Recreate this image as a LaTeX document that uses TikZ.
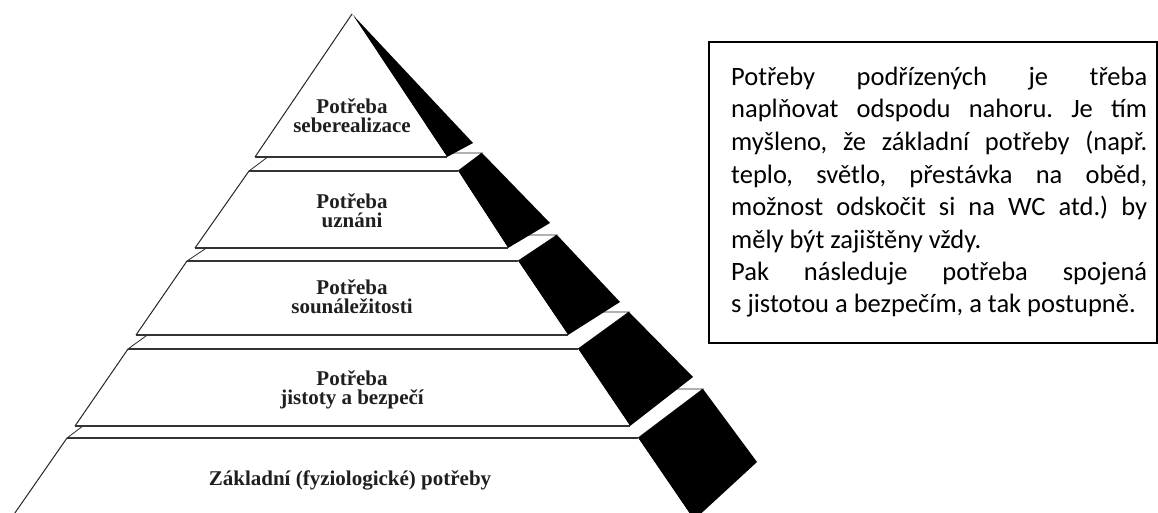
\documentclass[tikz,border=0pt]{standalone}
\usepackage{fontspec}
\setmainfont{Liberation Serif}
\newfontfamily\notefont{Carlito}
\frenchspacing
\begin{document}
\begin{tikzpicture}[x=1pt,y=-1pt,
  edge/.style={line width=1.8pt,draw=black!80},
  side/.style={line width=1pt,draw=black!85},
  backedge/.style={line width=0.8pt,draw=black!85},
  topface/.style={fill=white,backedge},
  shadeface/.style={fill=black},
  frontface/.style={fill=white},
  lbl/.style={font=\fontsize{21}{21}\selectfont\bfseries,text=black!88,anchor=base,
    inner sep=0pt,text height=12pt,text depth=3pt},
  note/.style={font=\notefont\fontsize{26.5}{32.3}\selectfont,anchor=base west,inner sep=0pt}]
\useasboundingbox (0,0) rectangle (1158,513);
\clip (0,0) rectangle (1158,513);

% ---- level 5: base layer
\coordinate (e-tl) at (67,438);  \coordinate (e-tr) at (638,438);
\coordinate (e-bl) at (10,520);  \coordinate (e-br) at (694,520);
\coordinate (e-btl) at (132,389); \coordinate (e-btr) at (703,389);
\coordinate (e-bbr) at (757,462);
\filldraw[topface] (e-tl) -- (e-tr) -- (e-btr) -- (e-btl) -- cycle;
\fill[shadeface] (e-tr) -- (e-btr) -- (e-bbr) -- (e-br) -- cycle;
\fill[frontface] (e-tl) -- (e-tr) -- (e-br) -- (e-bl) -- cycle;
\draw[side] (e-bl) -- (e-tl);
\draw[edge] (e-tl) -- (e-tr);

% ---- level 4
\coordinate (d-tl) at (128,349); \coordinate (d-tr) at (578,349);
\coordinate (d-bl) at (75,426);  \coordinate (d-br) at (630,426);
\coordinate (d-btl) at (179,312); \coordinate (d-btr) at (629,312);
\coordinate (d-bbr) at (693,377);
\filldraw[topface] (d-tl) -- (d-tr) -- (d-btr) -- (d-btl) -- cycle;
\fill[shadeface] (d-tr) -- (d-btr) -- (d-bbr) -- (d-br) -- cycle;
\fill[frontface] (d-tl) -- (d-tr) -- (d-br) -- (d-bl) -- cycle;
\draw[side] (d-bl) -- (d-tl);
\draw[edge] (d-tl) -- (d-tr);
\draw[edge] (d-bl) -- (d-br);

% ---- level 3
\coordinate (c-tl) at (187,261); \coordinate (c-tr) at (518,261);
\coordinate (c-bl) at (136,335); \coordinate (c-br) at (568,335);
\coordinate (c-btl) at (226,235); \coordinate (c-btr) at (557,235);
\coordinate (c-bbr) at (620,302);
\filldraw[topface] (c-tl) -- (c-tr) -- (c-btr) -- (c-btl) -- cycle;
\fill[shadeface] (c-tr) -- (c-btr) -- (c-bbr) -- (c-br) -- cycle;
\fill[frontface] (c-tl) -- (c-tr) -- (c-br) -- (c-bl) -- cycle;
\draw[side] (c-bl) -- (c-tl);
\draw[edge] (c-tl) -- (c-tr);
\draw[edge] (c-bl) -- (c-br);

% ---- level 2
\coordinate (b-tl) at (249,171); \coordinate (b-tr) at (458,171);
\coordinate (b-bl) at (195,248); \coordinate (b-br) at (508,248);
\coordinate (b-btl) at (273,153); \coordinate (b-btr) at (482,153);
\coordinate (b-bbr) at (550,223);
\filldraw[topface] (b-tl) -- (b-tr) -- (b-btr) -- (b-btl) -- cycle;
\fill[shadeface] (b-tr) -- (b-btr) -- (b-bbr) -- (b-br) -- cycle;
\fill[frontface] (b-tl) -- (b-tr) -- (b-br) -- (b-bl) -- cycle;
\draw[side] (b-bl) -- (b-tl);
\draw[edge] (b-tl) -- (b-tr);
\draw[edge] (b-bl) -- (b-br);

% ---- level 1: apex
\coordinate (a-top) at (352,14);
\coordinate (a-bl) at (255,157); \coordinate (a-br) at (447,157);
\coordinate (a-bbr) at (473,143);
\fill[shadeface] (a-top) -- (a-bbr) -- (a-br) -- cycle;
\fill[frontface] (a-top) -- (a-br) -- (a-bl) -- cycle;
\draw[side] (a-bl) -- (a-top);
\draw[edge] (a-bl) -- (a-br);

% ---- level labels
\node[lbl] (l1a) at (352,114) {Potřeba};
\node[lbl] (l1b) at (352,133) {seberealizace};
\node[lbl] (l2a) at (352,208) {Potřeba};
\node[lbl] (l2b) at (352,227) {uznáni};
\node[lbl] (l3a) at (352,294) {Potřeba};
\node[lbl] (l3b) at (352,313) {sounáležitosti};
\node[lbl] (l4a) at (352,385) {Potřeba};
\node[lbl] (l4b) at (352,404) {jistoty a bezpečí};
\node[lbl] (l5a) at (350,485) {Základní (fyziologické) potřeby};

% ---- explanatory note
\draw[line width=2pt] (709,42) rectangle (1157,343);
\node[note] (t1) at (731,86)  {\makebox[416pt][s]{Potřeby podřízených je třeba}};
\node[note] (t2) at (731,118) {\makebox[416pt][s]{naplňovat odspodu nahoru. Je tím}};
\node[note] (t3) at (731,151) {\makebox[416pt][s]{myšleno, že základní potřeby (např.}};
\node[note] (t4) at (731,183) {\makebox[416pt][s]{teplo, světlo, přestávka na oběd,}};
\node[note] (t5) at (731,215) {\makebox[416pt][s]{možnost odskočit si na WC atd.) by}};
\node[note] (t6) at (731,248) {měly být zajištěny vždy.};
\node[note] (t7) at (731,280) {\makebox[416pt][s]{Pak následuje potřeba spojená}};
\node[note] (t8) at (731,312) {s jistotou a bezpečím, a tak postupně.};
\end{tikzpicture}
\end{document}
